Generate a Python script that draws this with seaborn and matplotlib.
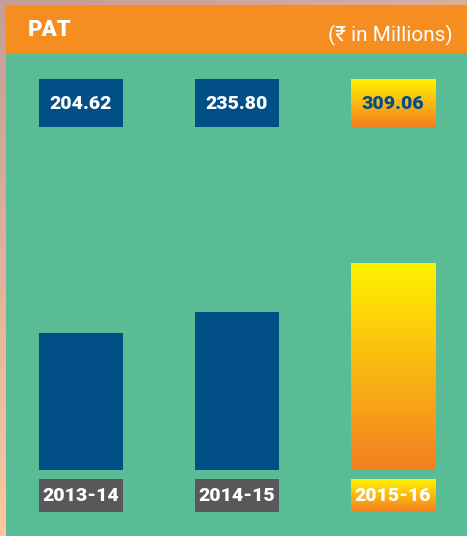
import numpy as np
import matplotlib
matplotlib.use("Agg")
import matplotlib.pyplot as plt
import seaborn as sns
from matplotlib.patches import Rectangle
from matplotlib.colors import to_rgb

# data
years = ["2013-14", "2014-15", "2015-16"]
pat = [204.62, 235.80, 309.06]
value_labels = ["204.62", "235.80", "309.06"]

sns.set_theme(style="white")
plt.rcParams["font.family"] = ["Roboto", "DejaVu Sans"]

BLUE = "#024f88"
GREY = "#58585a"
GREEN = "#59bc95"
ORANGE = "#f58d21"
YELLOW = "#fff200"
DEEP_ORANGE = "#f47f22"

W, H = 467, 536
fig = plt.figure(figsize=(W / 100, H / 100), dpi=100)

# background / decorations in pixel coords
bg = fig.add_axes([0, 0, 1, 1], zorder=0)
bg.set_axis_off()

# peach border gradient (bilinear)
tl, bl, tr, br = (np.array(to_rgb(c)) for c in ["#c49d96", "#fdc6a0", "#dcae9c", "#fcc8a2"])
yy, xx = np.mgrid[0:1:60j, 0:1:60j]
border = ((1 - yy)[..., None] * ((1 - xx)[..., None] * tl + xx[..., None] * tr)
          + yy[..., None] * ((1 - xx)[..., None] * bl + xx[..., None] * br))
bg.imshow(border, extent=(0, W, H, 0), aspect="auto", origin="upper", zorder=0)
bg.add_patch(Rectangle((6, 53), W - 6, H - 53, color=GREEN, lw=0, zorder=1))
bg.add_patch(Rectangle((6, 5), W - 6, 48, color=ORANGE, lw=0, zorder=1))
bg.text(28, 30, "PAT", color="white", fontsize=16, fontweight="heavy",
        va="center", ha="left", zorder=3)
bg.text(453, 35, "(₹ in Millions)", color="white", fontsize=15,
        va="center", ha="right", zorder=3)

grad = np.linspace(0, 1, 100)[:, None, None]
grad_img = (1 - grad) * np.array(to_rgb(YELLOW)) + grad * np.array(to_rgb(DEEP_ORANGE))

# bar axes
base_px = 470
ax_h = 230
ax = fig.add_axes([0, (H - base_px) / H, 1, ax_h / H], zorder=2)
ax.patch.set_alpha(0)
sns.barplot(x=years, y=pat, ax=ax, hue=years, palette=[BLUE, BLUE, DEEP_ORANGE],
            width=0.54, legend=False, saturation=1, linewidth=0)
ax.set_axis_off()

bars = ax.patches
last = bars[2]
last.set_facecolor("none")
im = ax.imshow(grad_img, extent=(last.get_x(), last.get_x() + last.get_width(), 0, last.get_height()),
               aspect="auto", origin="upper", zorder=1)
im.set_clip_path(last)
ax.set_xlim(-0.519, 2.474)
ax.set_ylim(0, ax_h / 0.67)

bg.set_xlim(0, W)
bg.set_ylim(H, 0)
to_px = ax.transData + bg.transData.inverted()

label_font = dict(fontweight="heavy", family=["Roboto", "DejaVu Sans"])

for i, b in enumerate(bars):
    x0 = to_px.transform((b.get_x(), 0))[0]
    x1 = to_px.transform((b.get_x() + b.get_width(), 0))[0]
    xc = (x0 + x1) / 2
    hi = i == 2
    # value box
    if hi:
        bg.imshow(grad_img, extent=(x0, x1, 127, 79), aspect="auto", origin="upper", zorder=2)
    else:
        bg.add_patch(Rectangle((x0, 79), x1 - x0, 48, color=BLUE, lw=0, zorder=2))
    bg.text(xc, 104, value_labels[i], color=BLUE if hi else "white", ha="center",
            va="center", zorder=3, fontsize=14, **label_font)
    # year box
    if hi:
        bg.imshow(grad_img, extent=(x0, x1, 512, 479), aspect="auto", origin="upper", zorder=2)
    else:
        bg.add_patch(Rectangle((x0, 479), x1 - x0, 33, color=GREY, lw=0, zorder=2))
    bg.text(xc, 496, years[i], color="white", ha="center", va="center", zorder=3,
            fontsize=14, **label_font)

bg.set_xlim(0, W)
bg.set_ylim(H, 0)

fig.savefig("out.png", dpi=100)
